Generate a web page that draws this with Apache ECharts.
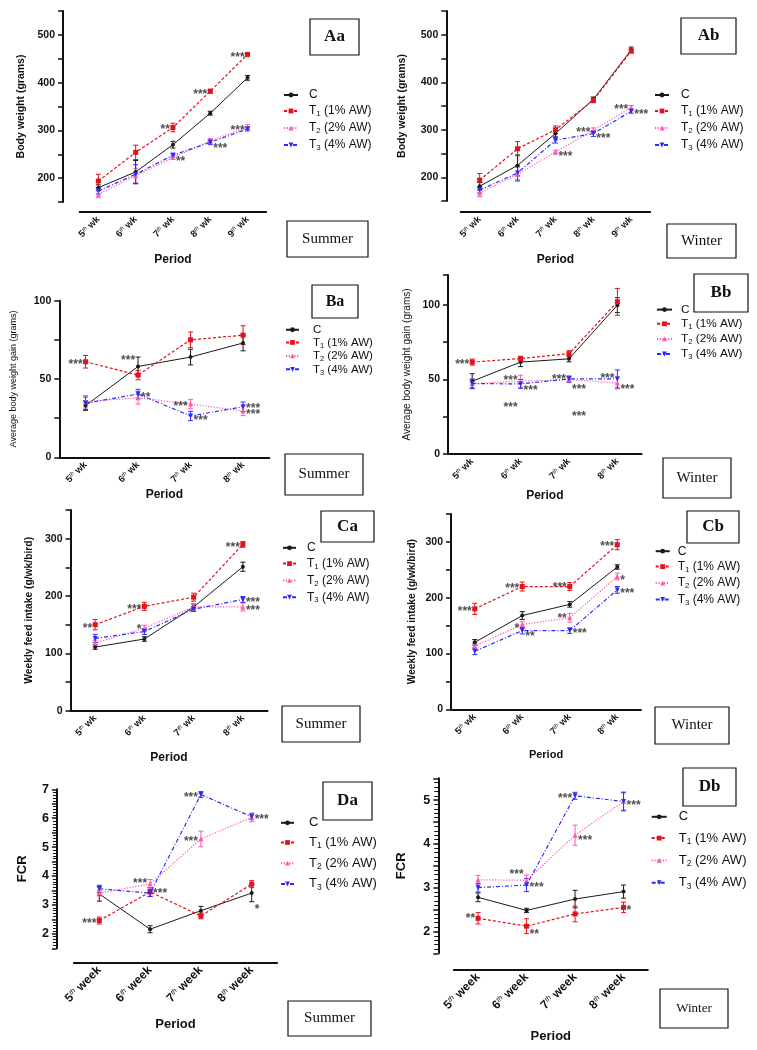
<!DOCTYPE html>
<html>
<head>
<meta charset="utf-8">
<script src="https://cdn.jsdelivr.net/npm/echarts@6/dist/echarts.min.js"></script>
<style>
  html, body { margin: 0; padding: 0; background: #fff; }
  #chart { width: 757px; height: 1050px; }
</style>
</head>
<body>
<div id="chart"></div>
<script>
// --- data (rows: C, T1, T2, T3) ---
const seriesNames = ['C', 'T1 (1% AW)', 'T2 (2% AW)', 'T3 (4% AW)'];
const weeks5 = ['5th wk', '6th wk', '7th wk', '8th wk', '9th wk'];
const weeks4 = ['5th wk', '6th wk', '7th wk', '8th wk'];
const weeksLong = ['5th week', '6th week', '7th week', '8th week'];

// body weight, grams
const bwSummer = [
  [180, 213, 270, 336, 410],
  [194, 254, 306, 382, 459],
  [166, 205, 243, 278, 307],
  [173, 208, 248, 275, 303]
];
const bwSummerErr = [[6, 24, 7, 4, 5], [14, 15, 9, 4, 3], [7, 15, 4, 5, 5], [6, 20, 4, 5, 4]];
const bwSummerStars = [[2, 307, '**', 'l'], [2, 240, '**', 'r'], [3, 382, '***', 'l'], [3, 267, '***', 'r'], [4, 459, '***', 'l'], [4, 306, '***', 'l']];

const bwWinter = [
  [181, 225, 292, 364, 468],
  [194, 260, 300, 362, 466],
  [167, 206, 253, 299, 347],
  [173, 209, 278, 292, 339]
];
const bwWinterErr = [[8, 22, 7, 5, 6], [14, 15, 8, 5, 4], [8, 15, 4, 5, 4], [6, 15, 6, 6, 4]];
const bwWinterStars = [[2, 250, '***', 'r'], [3, 301, '***', 'l'], [3, 287, '***', 'r'], [4, 349, '***', 'l'], [4, 339, '***', 'r']];

// average body weight gain, grams
const gainSummer = [
  [33, 58, 64, 73],
  [61, 52.5, 75, 78],
  [35.5, 38, 34, 29.6],
  [34.5, 40.4, 26.4, 32.3]
];
const gainSummerErr = [[3, 6, 5, 5], [4, 3, 5, 6], [4, 4, 3, 3], [4, 3, 3, 3]];
const gainSummerStars = [[0, 61, '***', 'l'], [1, 63.5, '***', 'l'], [1, 40, '**', 'r'], [2, 34.5, '***', 'l'], [2, 25, '***', 'r'], [3, 33, '***', 'r'], [3, 29, '***', 'r']];

const gainWinter = [
  [48.8, 61.6, 63.8, 99.8],
  [61.6, 64, 67.2, 102],
  [47.2, 48.8, 49.9, 47.6],
  [47.2, 47, 50.3, 50.3]
];
const gainWinterErr = [[5, 3, 2, 5], [2, 1.5, 2, 9], [3, 4, 2, 4], [3, 3, 2, 6]];
const gainWinterStars = [[0, 62, '***', 'l'], [1, 51, '***', 'l'], [1, 44.5, '***', 'r'], [1, 33, '***', 'l'], [2, 52, '***', 'l'], [2, 45, '***', 'r'], [2, 27, '***', 'r'], [3, 52.5, '***', 'l'], [3, 45, '***', 'r']];

// weekly feed intake, g/wk/bird
const feedSummer = [
  [111, 125, 181, 251],
  [150, 182, 198, 290],
  [118, 144, 181, 181],
  [126, 138, 177, 194]
];
const feedSummerErr = [[4, 4, 5, 8], [9, 7, 7, 5], [5, 5, 5, 7], [7, 5, 4, 5]];
const feedSummerStars = [[0, 149, '**', 'l'], [1, 182, '***', 'l'], [1, 146, '*', 'l'], [3, 290, '***', 'l'], [3, 194, '***', 'r'], [3, 179, '***', 'r']];

const feedWinter = [
  [120, 168, 188, 255],
  [180, 220, 220, 295],
  [113, 152, 164, 238],
  [104, 141, 141, 214]
];
const feedWinterErr = [[5, 7, 5, 4], [10, 8, 7, 9], [5, 5, 8, 6], [6, 6, 5, 6]];
const feedWinterStars = [[0, 180, '***', 'l'], [1, 221, '***', 'l'], [2, 224, '***', 'l'], [3, 296, '***', 'l'], [3, 236, '*', 'r'], [3, 213, '***', 'r'], [1, 150, '*', 'l'], [1, 136, '**', 'r'], [2, 167, '**', 'l'], [2, 140, '***', 'r']];

// FCR
const fcrSummer = [
  [3.38, 2.16, 2.80, 3.41],
  [2.46, 3.45, 2.62, 3.72],
  [3.41, 3.73, 5.28, 6.03],
  [3.56, 3.41, 6.82, 6.05]
];
const fcrSummerErr = [[0.25, 0.12, 0.15, 0.3], [0.12, 0.15, 0.1, 0.12], [0.1, 0.15, 0.27, 0.15], [0.12, 0.12, 0.1, 0.1]];
const fcrSummerStars = [[0, 2.46, '***', 'l'], [1, 3.83, '***', 'l'], [1, 3.5, '***', 'r'], [2, 6.8, '***', 'l'], [2, 5.28, '***', 'l'], [3, 6.06, '***', 'r'], [3, 2.94, '*', 'r']];

const fcrWinter = [
  [2.78, 2.48, 2.74, 2.91],
  [2.30, 2.12, 2.40, 2.55],
  [3.18, 3.17, 4.20, 4.97],
  [3.00, 3.06, 5.10, 4.97]
];
const fcrWinterErr = [[0.1, 0.05, 0.2, 0.15], [0.13, 0.17, 0.18, 0.12], [0.1, 0.12, 0.23, 0.22], [0.1, 0.15, 0.08, 0.2]];
const fcrWinterStars = [[2, 5.11, '***', 'l'], [3, 4.95, '***', 'r'], [2, 4.15, '***', 'r'], [1, 3.36, '***', 'l'], [1, 3.07, '***', 'r'], [0, 2.36, '**', 'l'], [1, 1.99, '**', 'r'], [3, 2.55, '*', 'r']];

// --- styles ---
const colors = ['#1a1a1a', '#e3121b', '#ff5aae', '#2a2aff'];
const lineTypes = ['solid', [3, 2], [1.2, 1.6], [4, 2, 1, 2]];
const symbols = ['circle', 'rect', 'triangle', 'path://M0,0L10,0L5,9Z'];
const symbolSizes = [4, 5, 5, 5];
const sans = '"Liberation Sans", Arial, sans-serif';
const serif = '"Liberation Serif", "Times New Roman", serif';
const ink = '#111';

// --- panel layout ---
const panels = [
  { cats: weeks5, vals: bwSummer, errs: bwSummerErr, stars: bwSummerStars,
    yName: 'Body weight (grams)', yNameSize: 10.5, yNameWeight: 'bold', yMin: 150, yMax: 550, yStep: 50, yEvery: 100,
    grid: [79.7, 11, 186.5, 191], yOff: 16.7, xOff: 10, yGap: 36, xGap: 42, tick: 10.5, cat: 9.5, xName: 12,
    legend: { left: 283, mid: 96, step: 18, font: 12, line: 14, gap: 6 },
    tag: [310, 19, 49, 36, 'Aa', 17], season: [287, 221, 81, 36, 'Summer', 15] },
  { cats: weeks5, vals: bwWinter, errs: bwWinterErr, stars: bwWinterStars,
    yName: 'Body weight (grams)', yNameSize: 10.5, yNameWeight: 'bold', yMin: 150, yMax: 550, yStep: 50, yEvery: 100,
    grid: [460.7, 11, 189.5, 190], yOff: 14.4, xOff: 11, yGap: 39, xGap: 42, tick: 10.5, cat: 9.5, xName: 12,
    legend: { left: 654, mid: 96, step: 18, font: 12, line: 14, gap: 7 },
    tag: [681, 18, 55, 36, 'Ab', 17], season: [667, 224, 69, 34, 'Winter', 15] },
  { cats: weeks4, vals: gainSummer, errs: gainSummerErr, stars: gainSummerStars,
    yName: 'Average body weight gain (grams)', yNameSize: 9, yNameWeight: 'normal', yMin: 0, yMax: 100, yStep: 25, yEvery: 50,
    grid: [59.3, 300.7, 210, 156.6], yOff: 0, xOff: 0, yGap: 41, xGap: 31, tick: 10.5, cat: 9.5, xName: 12,
    legend: { left: 285, mid: 330.5, step: 14.2, font: 11.5, line: 13, gap: 9 },
    tag: [312, 285, 46, 33, 'Ba', 16], season: [285, 454, 78, 41, 'Summer', 15] },
  { cats: weeks4, vals: gainWinter, errs: gainWinterErr, stars: gainWinterStars,
    yName: 'Average body weight gain (grams)', yNameSize: 10, yNameWeight: 'normal', yMin: 0, yMax: 120, yStep: 25, yEvery: 50,
    grid: [448, 275, 193.6, 179], yOff: 0, xOff: 0, yGap: 36, xGap: 36, tick: 10.5, cat: 9.5, xName: 12,
    legend: { left: 656, mid: 310.5, step: 16, font: 11.8, line: 15, gap: 4 },
    tag: [694, 274, 54, 38, 'Bb', 17], season: [663, 458, 68, 40, 'Winter', 15] },
  { cats: weeks4, vals: feedSummer, errs: feedSummerErr, stars: feedSummerStars,
    yName: 'Weekly feed intake (g/wk/bird)', yNameSize: 10.3, yNameWeight: 'bold', yMin: 0, yMax: 350, yStep: 50, yEvery: 100,
    grid: [70.5, 510, 197, 200.7], yOff: 0, xOff: 0, yGap: 36, xGap: 41, tick: 10.5, cat: 9.5, xName: 12,
    legend: { left: 282, mid: 548.8, step: 17.8, font: 12, line: 13, gap: 6 },
    tag: [321, 511, 53, 31, 'Ca', 17], season: [282, 706, 78, 36, 'Summer', 15] },
  { cats: weeks4, vals: feedWinter, errs: feedWinterErr, stars: feedWinterStars,
    yName: 'Weekly feed intake (g/wk/bird)', yNameSize: 10.2, yNameWeight: 'bold', yMin: 0, yMax: 350, yStep: 50, yEvery: 100,
    grid: [451, 514, 190, 195.3], yOff: 0, xOff: 0, yGap: 34, xGap: 40, tick: 10.5, cat: 9.5, xName: 11,
    legend: { left: 654.7, mid: 552.2, step: 17.4, font: 12, line: 14, gap: 3 },
    tag: [687, 511, 52, 32, 'Cb', 17], season: [655, 707, 74, 37, 'Winter', 15] },
  { cats: weeksLong, vals: fcrSummer, errs: fcrSummerErr, stars: fcrSummerStars,
    yName: 'FCR', yNameSize: 13, yNameWeight: 'bold', yMin: 1.5, yMax: 7, yStep: 0.5, yEvery: 1, minor: 5,
    grid: [73.9, 789.3, 203.2, 159], yOff: 17, xOff: 14, yGap: 28, xGap: 56, tick: 12.5, cat: 12, xName: 13,
    legend: { left: 280, mid: 823.8, step: 21.7, font: 13, line: 13, gap: 10 },
    tag: [323, 782, 49, 38, 'Da', 17], season: [288, 1001, 83, 35, 'Summer', 15] },
  { cats: weeksLong, vals: fcrWinter, errs: fcrWinterErr, stars: fcrWinterStars,
    yName: 'FCR', yNameSize: 13, yNameWeight: 'bold', yMin: 1.5, yMax: 5.5, yStep: 0.5, yEvery: 1, minor: 5,
    grid: [453.8, 778.3, 194, 175], yOff: 15.5, xOff: 16, yGap: 30, xGap: 61, tick: 12.5, cat: 12, xName: 13,
    legend: { left: 650.7, mid: 817.8, step: 23.3, font: 13, line: 15, gap: 7 },
    tag: [683, 768, 53, 38, 'Db', 17], season: [660, 989, 68, 39, 'Winter', 13] }
];

const isMultiple = (v, step) => Math.abs(v / step - Math.round(v / step)) < 1e-6;

const errorBar = (color) => (params, api) => {
  const lo = api.coord([api.value(0), api.value(1)]);
  const hi = api.coord([api.value(0), api.value(2)]);
  const w = 2.5;
  const st = { stroke: color, lineWidth: 1 };
  return {
    type: 'group',
    children: [
      { type: 'line', shape: { x1: lo[0], y1: lo[1], x2: hi[0], y2: hi[1] }, style: st },
      { type: 'line', shape: { x1: lo[0] - w, y1: lo[1], x2: lo[0] + w, y2: lo[1] }, style: st },
      { type: 'line', shape: { x1: hi[0] - w, y1: hi[1], x2: hi[0] + w, y2: hi[1] }, style: st }
    ]
  };
};

const option = {
  animation: false,
  backgroundColor: '#fff',
  grid: [], xAxis: [], yAxis: [], legend: [], series: [], graphic: []
};

panels.forEach((p, i) => {
  option.grid.push({ left: p.grid[0], top: p.grid[1], width: p.grid[2], height: p.grid[3], outerBoundsMode: 'none' });

  option.xAxis.push({
    type: 'category', gridIndex: i, data: p.cats, boundaryGap: true, offset: p.xOff,
    axisLine: { lineStyle: { color: ink, width: 2 } },
    axisTick: { alignWithLabel: true, length: 4, lineStyle: { color: ink, width: 2 } },
    axisLabel: {
      rotate: 45, margin: 6, interval: 0,
      formatter: (v) => {
        const m = v.match(/^(\d+)(th) (.*)$/);
        return '{n|' + m[1] + '}{s|' + m[2] + '}{n| ' + m[3] + '}';
      },
      rich: {
        n: { fontSize: p.cat, fontWeight: 'bold', fontFamily: sans, color: ink },
        s: { fontSize: p.cat * 0.6, fontStyle: 'italic', fontFamily: sans, color: ink, verticalAlign: 'top' }
      }
    },
    splitLine: { show: false },
    name: 'Period', nameLocation: 'middle', nameGap: p.xGap, nameMoveOverlap: false,
    nameTextStyle: { fontSize: p.xName, fontWeight: 'bold', fontFamily: sans, color: ink }
  });

  option.yAxis.push({
    type: 'value', gridIndex: i, min: p.yMin, max: p.yMax, interval: p.yStep, offset: p.yOff,
    axisLine: { show: true, lineStyle: { color: ink, width: 2 } },
    axisTick: { show: true, length: 5, lineStyle: { color: ink, width: 1.5 } },
    minorTick: p.minor ? { show: true, splitNumber: p.minor, length: 4, lineStyle: { color: ink, width: 1 } } : { show: false },
    axisLabel: {
      margin: 8, fontSize: p.tick, fontWeight: 'bold', fontFamily: sans, color: ink,
      formatter: (v) => (isMultiple(v, p.yEvery) ? String(Math.round(v)) : '')
    },
    splitLine: { show: false }, minorSplitLine: { show: false },
    name: p.yName, nameLocation: 'middle', nameGap: p.yGap, nameMoveOverlap: false,
    nameTextStyle: { fontSize: p.yNameSize, fontWeight: p.yNameWeight, fontFamily: sans, color: ink }
  });

  const lg = p.legend;
  const lh = lg.font + 2;
  option.legend.push({
    data: seriesNames, orient: 'vertical', left: lg.left, top: lg.mid - lh / 2,
    itemWidth: lg.line, itemHeight: 6, itemGap: lg.step - lh, selectedMode: false, padding: 0,
    formatter: (name) => {
      const m = name.match(/^T(\d)(.*)$/);
      if (!m) return '{g| }{n|' + name + '}';
      return '{g| }{n|T}{s|' + m[1] + '}{n|' + m[2] + '}';
    },
    textStyle: {
      rich: {
        g: { width: lg.gap },
        n: { fontSize: lg.font, fontFamily: sans, color: ink, lineHeight: lh },
        s: { fontSize: lg.font * 0.65, fontFamily: sans, color: ink, verticalAlign: 'bottom', lineHeight: lh }
      }
    }
  });

  p.vals.forEach((vals, k) => {
    option.series.push({
      type: 'custom', name: 'err', xAxisIndex: i, yAxisIndex: i, silent: true, z: 2,
      data: vals.map((v, j) => [j, v - p.errs[k][j], v + p.errs[k][j]]),
      encode: { x: 0, y: [1, 2] },
      renderItem: errorBar(colors[k])
    });
    option.series.push({
      type: 'line', name: seriesNames[k], xAxisIndex: i, yAxisIndex: i, data: vals, z: 3 + k,
      symbol: symbols[k], symbolSize: symbolSizes[k], showSymbol: true,
      color: colors[k], itemStyle: { color: colors[k] },
      lineStyle: { color: colors[k], width: k === 0 ? 1 : 1.2, type: lineTypes[k] }
    });
  });

  option.series.push({
    type: 'scatter', name: 'stars', xAxisIndex: i, yAxisIndex: i, symbolSize: 0, silent: true, z: 10,
    data: p.stars.map(([c, v, t, side]) => ({
      value: [c, v],
      label: { formatter: t, position: side === 'l' ? 'left' : 'right' }
    })),
    label: { show: true, distance: 3, offset: [0, 3], fontSize: 12, fontWeight: 'bold', fontFamily: sans, color: '#222' }
  });

  [p.tag, p.season].forEach((b, bi) => {
    option.graphic.push({
      type: 'rect', shape: { x: b[0], y: b[1], width: b[2], height: b[3] },
      style: { fill: 'rgba(0,0,0,0)', stroke: ink, lineWidth: 1.2 }, z: 50
    });
    option.graphic.push({
      type: 'text', x: b[0] + b[2] / 2, y: b[1] + b[3] / 2, z: 51,
      style: { text: b[4], align: 'center', verticalAlign: 'middle', fill: ink,
        font: (bi === 0 ? 'bold ' : '') + b[5] + 'px ' + serif }
    });
  });
});

const chart = echarts.init(document.getElementById('chart'));
chart.setOption(option);
</script>
</body>
</html>
